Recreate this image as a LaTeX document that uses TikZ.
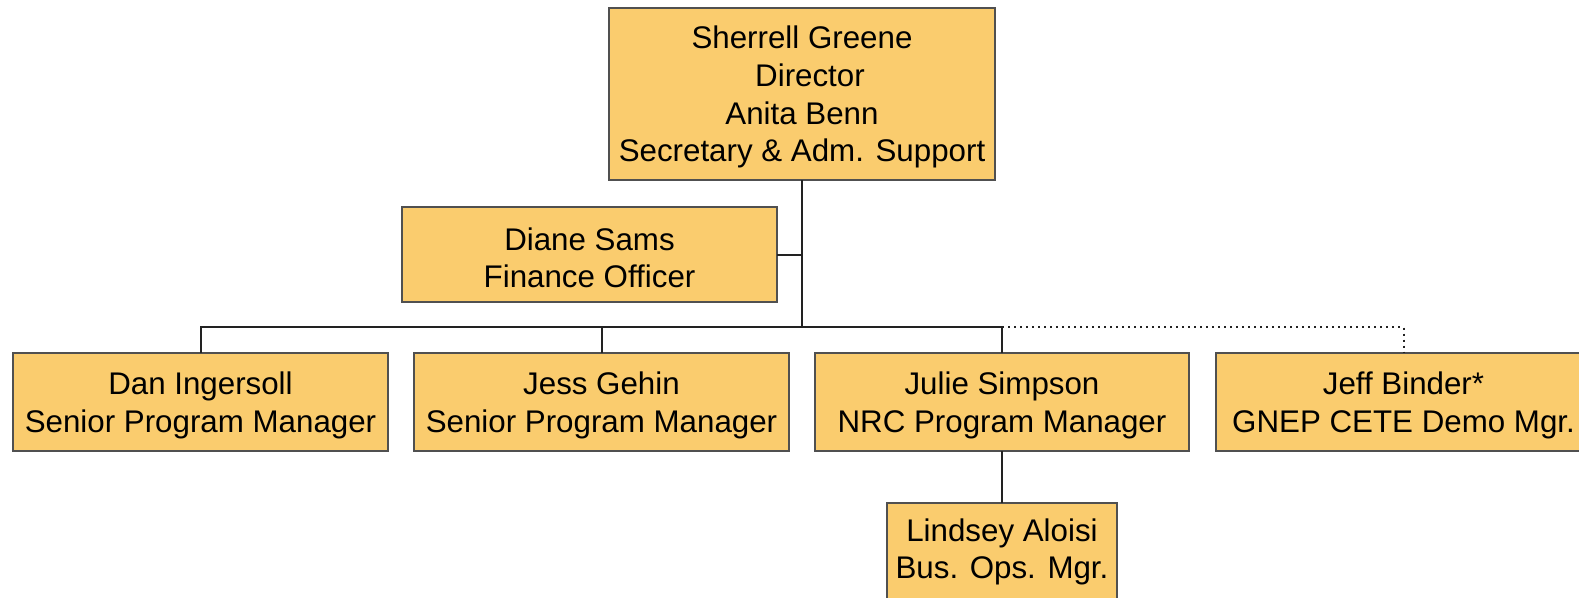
\documentclass[tikz,border=0pt]{standalone}
\usepackage{fontspec}
\setmainfont{Liberation Sans}
\definecolor{boxfill}{RGB}{250,204,110}
\definecolor{boxline}{RGB}{80,80,80}
\definecolor{conn}{RGB}{34,34,34}
\newcommand{\toppad}{\rule{0pt}{29pt}}
\begin{document}
\begin{tikzpicture}[x=1pt,y=-1pt,
  orgbox/.style={draw=boxline, line width=1.8pt, fill=boxfill, rectangle, align=center, inner sep=0pt, outer sep=0pt,
    font=\fontsize{31.3}{37.6}\selectfont, text=black},
  link/.style={draw=conn, line width=2pt},
  dotlink/.style={draw=conn, line width=2pt, dash pattern=on 2pt off 4pt}]
\useasboundingbox (0,0) rectangle (1579,597);
\clip (0,0) rectangle (1579,597);
\node[orgbox, minimum width=386pt, minimum height=172pt] (top) at (802,94)
  {\toppad Sherrell Greene\\\hspace{16pt}Director\\Anita Benn\\Secretary \& Adm. Support};
\node[orgbox, minimum width=375pt, minimum height=95pt] (diane) at (589.5,254.5)
  {\toppad Diane Sams\\Finance Officer};
\node[orgbox, minimum width=375pt, minimum height=98pt] (dan) at (200.5,402)
  {\toppad Dan Ingersoll\\Senior Program Manager};
\node[orgbox, minimum width=375pt, minimum height=98pt] (jess) at (601.5,402)
  {\toppad Jess Gehin\\Senior Program Manager};
\node[orgbox, minimum width=374pt, minimum height=98pt] (julie) at (1002,402)
  {\toppad Julie Simpson\\NRC Program Manager};
\node[orgbox, minimum width=375pt, minimum height=98pt] (jeff) at (1403.5,402)
  {\toppad Jeff Binder*\\GNEP CETE Demo Mgr.};
\node[orgbox, minimum width=230pt, minimum height=104pt] (lind) at (1002,555)
  {};
\node[font=\fontsize{31.3}{37.6}\selectfont, align=center, inner sep=0pt] (lindtext) at (1002,552)
  {Lindsey Aloisi\\Bus. Ops. Mgr.};
\coordinate (bus) at (802,327);
\draw[link] (top.south) -- (bus);
\draw[link] (diane.east) -- (diane.east -| bus);
\draw[link] (dan.north) |- (julie.north |- bus) -- (julie.north);
\draw[link] (jess.north) -- (jess.north |- bus);
\draw[dotlink] (julie.north |- bus) -| (jeff.north);
\draw[link] (julie.south) -- (lind.north);
\end{tikzpicture}
\end{document}
